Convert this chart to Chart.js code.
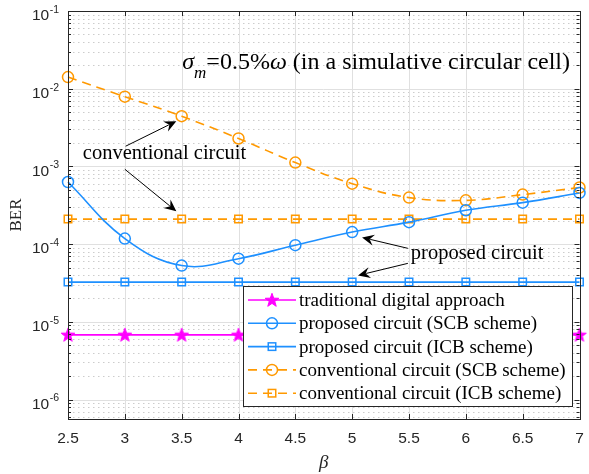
<!DOCTYPE html>
<html>
<head>
<meta charset="utf-8">
<script src="https://cdn.jsdelivr.net/npm/chart.js@4.4.1/dist/chart.umd.min.js"></script>
<style>
  html, body { margin: 0; padding: 0; background: #fff; }
  #wrap { width: 589px; height: 474px; }
</style>
</head>
<body>
<div id="wrap"><canvas id="chart" width="589" height="474"></canvas></div>
<script>
/* ---------- data ---------- */
const BETA = [2.5, 3, 3.5, 4, 4.5, 5, 5.5, 6, 6.5, 7];
const TRADITIONAL      = [6.8e-6, 6.8e-6, 6.8e-6, 6.8e-6, 6.8e-6, 6.8e-6, 6.8e-6, 6.8e-6, 6.8e-6, 6.8e-6];
const PROPOSED_SCB     = [6.3e-4, 1.18e-4, 5.3e-5, 6.5e-5, 9.7e-5, 1.43e-4, 1.92e-4, 2.73e-4, 3.42e-4, 4.56e-4];
const PROPOSED_ICB     = [3.25e-5, 3.25e-5, 3.25e-5, 3.25e-5, 3.25e-5, 3.25e-5, 3.25e-5, 3.25e-5, 3.25e-5, 3.25e-5];
const CONVENTIONAL_SCB = [1.41e-2, 7.9e-3, 4.43e-3, 2.29e-3, 1.12e-3, 6.0e-4, 3.97e-4, 3.66e-4, 4.34e-4, 5.35e-4];
const CONVENTIONAL_ICB = [2.1e-4, 2.1e-4, 2.1e-4, 2.1e-4, 2.1e-4, 2.1e-4, 2.1e-4, 2.1e-4, 2.1e-4, 2.1e-4];

const LABELS = [
  "traditional digital approach",
  "proposed circuit (SCB scheme)",
  "proposed circuit (ICB scheme)",
  "conventional circuit (SCB scheme)",
  "conventional circuit (ICB scheme)"
];

const X_TICKS = [2.5, 3, 3.5, 4, 4.5, 5, 5.5, 6, 6.5, 7];
const Y_EXPONENTS = [-6, -5, -4, -3, -2, -1];
const Y_MIN = Math.pow(10, -6.25), Y_MAX = 0.1;

// annotation texts and arrows, in data coordinates (beta, BER)
const NOTE_CONV = { text: "conventional circuit", x: 2.63, y: 1.48e-3 };
const NOTE_PROP = { text: "proposed circuit", x: 5.516, y: 7.6e-5 };
const ARROWS = [
  { from: [3.007, 1.82e-3], to: [3.453, 3.82e-3] },
  { from: [3.0, 9.2e-4],    to: [3.453, 2.65e-4] },
  { from: [5.49, 8.83e-5],  to: [5.087, 1.22e-4] },
  { from: [5.49, 5.66e-5],  to: [5.052, 3.96e-5] }
];

const BLUE = "rgb(30,144,255)";
const ORANGE = "rgb(255,153,0)";
const MAGENTA = "rgb(255,0,255)";
const INK = "#262626";
const SERIF = "'Liberation Serif', 'Times New Roman', serif";
const SANS = "'Liberation Sans', Arial, sans-serif";

/* ---------- helpers ---------- */
function makeStar(color){
  const c = document.createElement("canvas");
  c.width = 16; c.height = 16;
  const g = c.getContext("2d");
  g.beginPath();
  for(let i=0;i<10;i++){
    const r = i%2===0 ? 7.2 : 2.9;
    const a = -Math.PI/2 + i*Math.PI/5;
    const px = 8 + r*Math.cos(a), py = 8.5 + r*Math.sin(a);
    i===0 ? g.moveTo(px,py) : g.lineTo(px,py);
  }
  g.closePath();
  g.fillStyle = color; g.fill();
  g.strokeStyle = color; g.lineWidth = 1; g.stroke();
  return c;
}
const STAR = makeStar(MAGENTA);

const Y_MINOR = [];
for(let e=-7;e<=-2;e++){
  for(let m=2;m<=9;m++){
    const v = m*Math.pow(10,e);
    if(v>=Y_MIN && v<=Y_MAX) Y_MINOR.push(v);
  }
}

function pts(arr){ return BETA.map((b,i)=>({x:b, y:arr[i]})); }

function series(label, arr, color, dash, style, radius, smooth){
  return {
    label, data: pts(arr),
    borderColor: color, backgroundColor: color,
    borderWidth: 1.6, borderDash: dash,
    pointStyle: style, pointRadius: radius, pointBorderWidth: 1.5,
    pointBackgroundColor: "rgba(0,0,0,0)", pointBorderColor: color,
    tension: smooth ? 0.4 : 0, clip: false, fill: false
  };
}

function drawMarker(ctx, ds, x, y){
  ctx.save();
  ctx.setLineDash([]);
  ctx.strokeStyle = ds.borderColor; ctx.lineWidth = ds.pointBorderWidth;
  if(ds.pointStyle === "circle"){
    ctx.beginPath(); ctx.arc(x, y, ds.pointRadius, 0, Math.PI*2); ctx.stroke();
  } else if(ds.pointStyle === "rect"){
    const s = ds.pointRadius*Math.SQRT1_2;
    ctx.strokeRect(x-s, y-s, 2*s, 2*s);
  } else {
    ctx.drawImage(ds.pointStyle, x-ds.pointStyle.width/2, y-ds.pointStyle.height/2);
  }
  ctx.restore();
}

function arrow(ctx, x1, y1, x2, y2){
  const ang = Math.atan2(y2-y1, x2-x1);
  const L = 12, W = 5.5;
  ctx.beginPath(); ctx.moveTo(x1,y1);
  ctx.lineTo(x2 - Math.cos(ang)*L*0.7, y2 - Math.sin(ang)*L*0.7); ctx.stroke();
  ctx.save();
  ctx.translate(x2,y2); ctx.rotate(ang);
  ctx.beginPath();
  ctx.moveTo(0,0); ctx.lineTo(-L, -W); ctx.lineTo(-L*0.65, 0); ctx.lineTo(-L, W);
  ctx.closePath(); ctx.fill();
  ctx.restore();
}

/* ---------- decorations plugin ---------- */
const decor = {
  id: "decor",
  beforeDatasetsDraw(chart){
    const {ctx, chartArea:a, scales:{x, y}} = chart;
    ctx.save();
    ctx.lineWidth = 1;
    // minor dotted horizontal grid
    ctx.strokeStyle = "rgba(0,0,0,0.2)";
    ctx.setLineDash([1.5, 3.5]);
    Y_MINOR.forEach(v=>{
      const py = Math.round(y.getPixelForValue(v)) + 0.5;
      ctx.beginPath(); ctx.moveTo(a.left, py); ctx.lineTo(a.right, py); ctx.stroke();
    });
    ctx.setLineDash([]);
    // major grid
    ctx.strokeStyle = "#e0e0e0";
    X_TICKS.forEach(v=>{
      const px = Math.round(x.getPixelForValue(v)) + 0.5;
      ctx.beginPath(); ctx.moveTo(px, a.top); ctx.lineTo(px, a.bottom); ctx.stroke();
    });
    Y_EXPONENTS.forEach(e=>{
      const py = Math.round(y.getPixelForValue(Math.pow(10,e))) + 0.5;
      ctx.beginPath(); ctx.moveTo(a.left, py); ctx.lineTo(a.right, py); ctx.stroke();
    });
    ctx.restore();
  },
  afterDatasetsDraw(chart){
    const {ctx, chartArea:a, scales:{x, y}} = chart;
    ctx.save();
    // axes box
    ctx.strokeStyle = INK; ctx.lineWidth = 1;
    ctx.strokeRect(Math.round(a.left)+0.5, Math.round(a.top)+0.5, Math.round(a.right-a.left), Math.round(a.bottom-a.top));
    // inside ticks
    ctx.beginPath();
    X_TICKS.forEach(v=>{
      const px = Math.round(x.getPixelForValue(v)) + 0.5;
      ctx.moveTo(px, a.bottom); ctx.lineTo(px, a.bottom-5);
      ctx.moveTo(px, a.top); ctx.lineTo(px, a.top+5);
    });
    Y_EXPONENTS.forEach(e=>{
      const py = Math.round(y.getPixelForValue(Math.pow(10,e))) + 0.5;
      ctx.moveTo(a.left, py); ctx.lineTo(a.left+5, py);
      ctx.moveTo(a.right, py); ctx.lineTo(a.right-5, py);
    });
    Y_MINOR.forEach(v=>{
      const py = Math.round(y.getPixelForValue(v)) + 0.5;
      ctx.moveTo(a.left, py); ctx.lineTo(a.left+3, py);
      ctx.moveTo(a.right, py); ctx.lineTo(a.right-3, py);
    });
    ctx.stroke();

    // y tick labels 10^n
    ctx.fillStyle = INK;
    ctx.textBaseline = "middle";
    Y_EXPONENTS.forEach(e=>{
      const py = y.getPixelForValue(Math.pow(10,e));
      const right = a.left - 9;
      ctx.font = "10.5px " + SANS;
      ctx.textAlign = "right";
      const ex = "-" + Math.abs(e);
      ctx.fillText(ex, right, py - 1);
      const w = ctx.measureText(ex).width;
      ctx.font = "15.5px " + SANS;
      ctx.fillText("10", right - w - 0.5, py + 5);
    });

    // legend
    const lx = 243, ly = 286, lw = 329, lh = 120;
    ctx.fillStyle = "#fff";
    ctx.fillRect(lx, ly, lw, lh);
    ctx.strokeStyle = INK; ctx.lineWidth = 1;
    ctx.strokeRect(lx+0.5, ly+0.5, lw, lh);
    chart.data.datasets.forEach((ds, i)=>{
      const ry = ly + 14 + i*23.3;
      ctx.save();
      ctx.strokeStyle = ds.borderColor; ctx.lineWidth = ds.borderWidth;
      ctx.setLineDash(ds.borderDash);
      ctx.beginPath(); ctx.moveTo(lx+5, ry); ctx.lineTo(lx+53, ry); ctx.stroke();
      ctx.restore();
      drawMarker(ctx, ds, lx+29, ry);
      ctx.fillStyle = "#000";
      ctx.font = "19px " + SERIF;
      ctx.textAlign = "left"; ctx.textBaseline = "middle";
      ctx.fillText(ds.label, lx+56, ry+1);
    });

    // annotation texts
    ctx.fillStyle = "#000"; ctx.textAlign = "left"; ctx.textBaseline = "middle";
    ctx.font = "20.5px " + SERIF;
    ctx.fillText(NOTE_CONV.text, x.getPixelForValue(NOTE_CONV.x), y.getPixelForValue(NOTE_CONV.y));
    ctx.fillText(NOTE_PROP.text, x.getPixelForValue(NOTE_PROP.x), y.getPixelForValue(NOTE_PROP.y));

    // sigma_m = 0.5% omega title
    let tx = x.getPixelForValue(3.505), ty = y.getPixelForValue(2.2e-2) + 7;
    ctx.textBaseline = "alphabetic";
    ctx.font = "italic 24px " + SERIF;
    ctx.fillText("σ", tx, ty); tx += ctx.measureText("σ").width;
    ctx.font = "italic 17px " + SERIF;
    ctx.fillText("m", tx, ty + 9); tx += ctx.measureText("m").width;
    ctx.font = "24px " + SERIF;
    ctx.fillText("=0.5%", tx, ty); tx += ctx.measureText("=0.5%").width;
    ctx.font = "italic 24px " + SERIF;
    ctx.fillText("ω", tx, ty); tx += ctx.measureText("ω").width;
    ctx.font = "24px " + SERIF;
    ctx.fillText(" (in a simulative circular cell)", tx, ty);

    // arrows
    ctx.strokeStyle = "#000"; ctx.fillStyle = "#000"; ctx.lineWidth = 1;
    ARROWS.forEach(ar=>{
      arrow(ctx,
        x.getPixelForValue(ar.from[0]), y.getPixelForValue(ar.from[1]),
        x.getPixelForValue(ar.to[0]), y.getPixelForValue(ar.to[1]));
    });
    ctx.restore();
  }
};

/* ---------- chart ---------- */
new Chart(document.getElementById("chart"), {
  type: "line",
  data: {
    datasets: [
      series(LABELS[0], TRADITIONAL, MAGENTA, [], STAR, 8, false),
      series(LABELS[1], PROPOSED_SCB, BLUE, [], "circle", 5.5, true),
      series(LABELS[2], PROPOSED_ICB, BLUE, [], "rect", 5.3, false),
      series(LABELS[3], CONVENTIONAL_SCB, ORANGE, [9, 6], "circle", 5.5, true),
      series(LABELS[4], CONVENTIONAL_ICB, ORANGE, [9, 6], "rect", 5.3, false)
    ]
  },
  options: {
    responsive: false,
    animation: false,
    devicePixelRatio: 1,
    layout: { padding: { left: 6, top: 11, right: 5, bottom: 0 } },
    plugins: { legend: { display: false }, tooltip: { enabled: false } },
    scales: {
      x: {
        type: "linear", min: 2.5, max: 7,
        afterBuildTicks: s => { s.ticks = X_TICKS.map(v => ({ value: v })); },
        afterFit: s => { s.height = 55; s.paddingLeft = 0; s.paddingRight = 0; },
        grid: { display: false, drawTicks: false },
        border: { display: false },
        ticks: { color: INK, padding: 10, font: { family: SANS, size: 15.5 }, callback: v => String(v) },
        title: { display: true, text: "β", color: INK, padding: { top: 0, bottom: 0 },
                 font: { family: SERIF, size: 19, style: "italic" } }
      },
      y: {
        type: "logarithmic", min: Y_MIN, max: Y_MAX,
        afterFit: s => { s.width = 62; },
        grid: { display: false, drawTicks: false },
        border: { display: false },
        ticks: { display: false },
        title: { display: true, text: "BER", color: INK, padding: { top: 0, bottom: 0 },
                 font: { family: SERIF, size: 17 } }
      }
    }
  },
  plugins: [decor]
});
</script>
</body>
</html>
